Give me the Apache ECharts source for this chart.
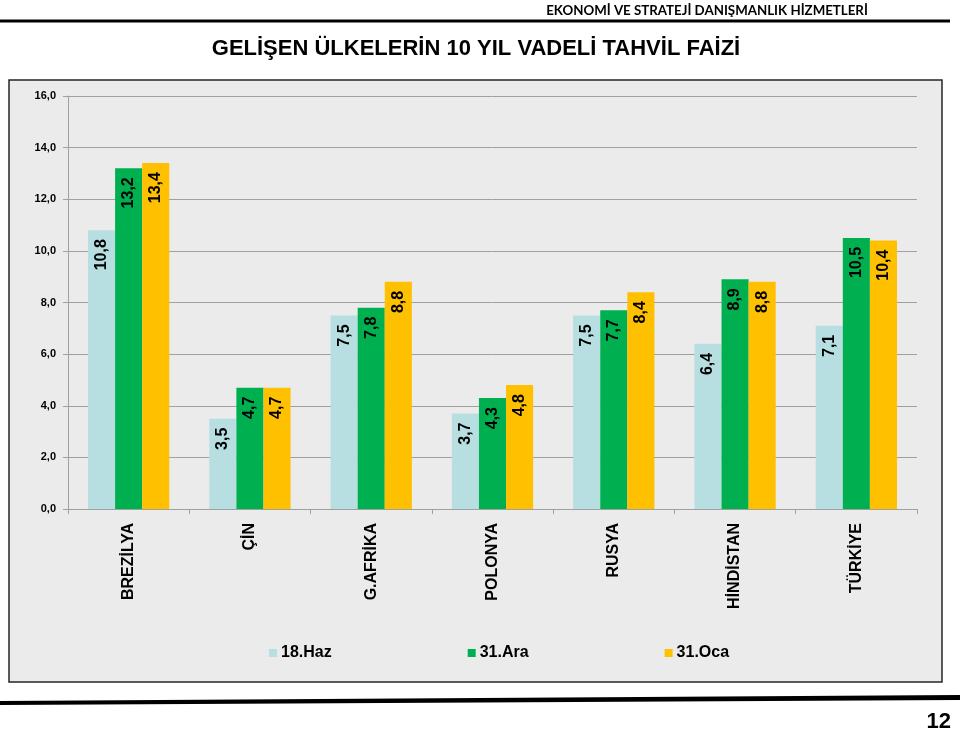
<!DOCTYPE html>
<html>
<head>
<meta charset="utf-8">
<script src="https://cdn.jsdelivr.net/npm/echarts@6/dist/echarts.min.js"></script>
<style>
html,body{margin:0;padding:0;background:#fff;}
#chart{width:960px;height:732px;}
</style>
</head>
<body>
<div id="chart"></div>
<script>
const categories = ['BREZİLYA', 'ÇİN', 'G.AFRİKA', 'POLONYA', 'RUSYA', 'HİNDİSTAN', 'TÜRKİYE'];
const seriesNames = ['18.Haz', '31.Ara', '31.Oca'];
const haz18 = [10.8, 3.5, 7.5, 3.7, 7.5, 6.4, 7.1];
const ara31 = [13.2, 4.7, 7.8, 4.3, 7.7, 8.9, 10.5];
const oca31 = [13.4, 4.7, 8.8, 4.8, 8.4, 8.8, 10.4];
const colors = ['#B7DEE1', '#00B050', '#FFC000'];
const headerText = 'EKONOMİ VE STRATEJİ DANIŞMANLIK HİZMETLERİ';
const titleText = 'GELİŞEN ÜLKELERİN 10 YIL VADELİ TAHVİL FAİZİ';
const pageNumber = '12';

const fmt = v => v.toFixed(1).replace('.', ',');
const chart = echarts.init(document.getElementById('chart'));
const mkSeries = (name, data, color) => ({
  name, type: 'bar', data,
  itemStyle: { color },
  barGap: '0%', barCategoryGap: '33%',
  label: {
    show: true, position: 'insideTop', rotate: 90,
    align: 'right', verticalAlign: 'middle', distance: 9,
    formatter: p => fmt(p.value),
    fontFamily: 'Liberation Sans, Arial', fontWeight: 'bold', fontSize: 16, color: '#000'
  }
});
chart.setOption({
  animation: false,
  backgroundColor: '#fff',
  graphic: [
    { type: 'rect', z: -10, shape: { x: 9, y: 80, width: 933, height: 602 },
      style: { fill: '#EBEBEB', stroke: '#262626', lineWidth: 1.5 } },
    { type: 'rect', shape: { x: 0, y: 19.5, width: 950, height: 3 }, style: { fill: '#000' } },
    { type: 'text', x: 707, y: 4, style: { text: headerText, fill: '#000',
      font: 'bold 13.3px Lato, "Open Sans", sans-serif', textAlign: 'center' } },
    { type: 'text', x: 476, y: 38, style: { text: titleText, fill: '#000',
      font: 'bold 22px "Liberation Sans", Arial', textAlign: 'center' } },
    { type: 'polygon', shape: { points: [[0, 701], [960, 695], [960, 700], [0, 705]] }, style: { fill: '#000' } },
    { type: 'text', x: 951, y: 711, style: { text: pageNumber, fill: '#000',
      font: 'bold 22px "Liberation Sans Narrow", "Liberation Sans", Arial', textAlign: 'right' } }
  ],
  legend: {
    data: seriesNames, left: 264, top: 640, icon: 'rect', itemWidth: 8, itemHeight: 8,
    itemGap: 136,
    textStyle: { fontFamily: 'Liberation Sans, Arial', fontWeight: 'bold', fontSize: 16, color: '#000', padding: [0, 0, 0, -1] }
  },
  grid: { left: 68, right: 43, top: 96, bottom: 223 },
  xAxis: {
    type: 'category', data: categories,
    axisLine: { lineStyle: { color: '#A0A0A0', width: 1 } },
    axisTick: { show: true, length: 5, lineStyle: { color: '#A0A0A0' } },
    axisLabel: { rotate: 90, margin: 14, color: '#000', fontFamily: 'Liberation Sans, Arial',
      fontWeight: 'bold', fontSize: 16, interval: 0 }
  },
  yAxis: {
    type: 'value', min: 0, max: 16, interval: 2,
    axisLine: { show: true, lineStyle: { color: '#A0A0A0', width: 1 } },
    axisTick: { show: true, length: 5, lineStyle: { color: '#A0A0A0' } },
    splitLine: { lineStyle: { color: '#A0A0A0', width: 1 } },
    axisLabel: { formatter: v => fmt(v), margin: 12, color: '#000',
      fontFamily: 'Liberation Sans, Arial', fontWeight: 'bold', fontSize: 11 }
  },
  series: [
    mkSeries(seriesNames[0], haz18, colors[0]),
    mkSeries(seriesNames[1], ara31, colors[1]),
    mkSeries(seriesNames[2], oca31, colors[2])
  ]
});
</script>
</body>
</html>
